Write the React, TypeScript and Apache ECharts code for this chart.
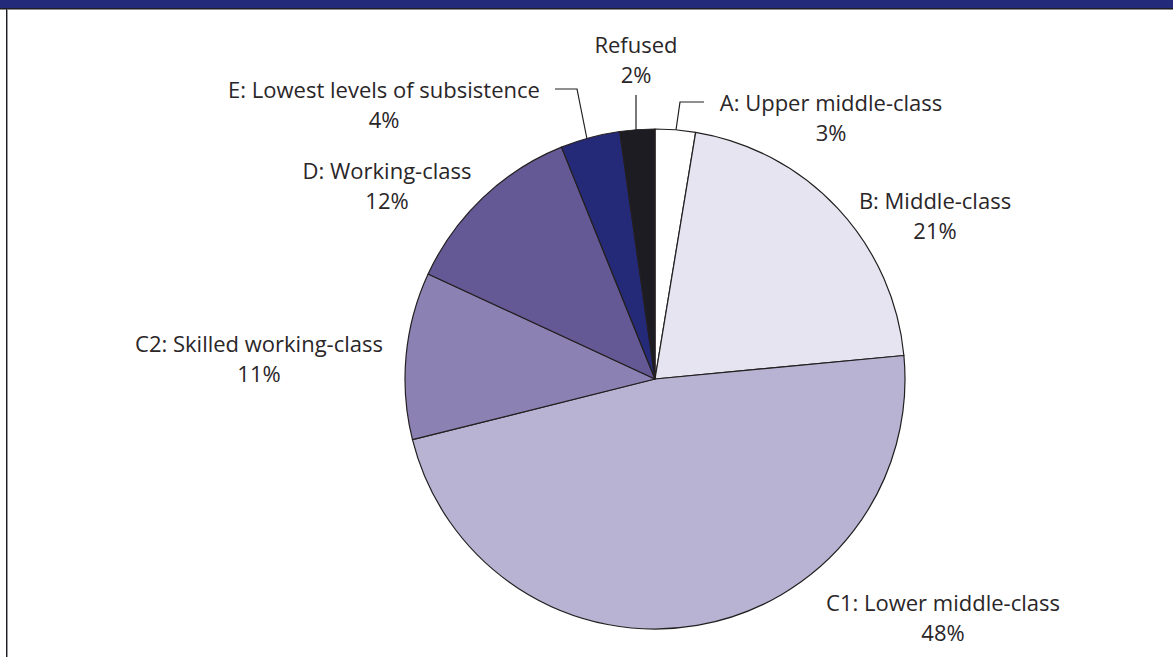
import React, { useEffect, useRef } from "react";
import * as echarts from "echarts";

const categories = [
  "A: Upper middle-class",
  "B: Middle-class",
  "C1: Lower middle-class",
  "C2: Skilled working-class",
  "D: Working-class",
  "E: Lowest levels of subsistence",
  "Refused",
];
// slice shares (percent)
const shares = [2.6, 20.9, 47.6, 10.8, 12.0, 3.85, 2.25];
// percentages printed on the labels
const labelPercents = [3, 21, 48, 11, 12, 4, 2];
const colors = ["#ffffff", "#e6e4f1", "#b8b3d3", "#8b82b3", "#645995", "#252a78", "#1d1c22"];

// label block centres and leader lines
const labelPos: Record<string, { x: number; y: number; line?: number[][] }> = {
  "A: Upper middle-class": { x: 831, y: 117, line: [[676, 130], [680, 102], [704, 102]] },
  "B: Middle-class": { x: 935, y: 215 },
  "C1: Lower middle-class": { x: 943, y: 617 },
  "C2: Skilled working-class": { x: 259, y: 358 },
  "D: Working-class": { x: 387, y: 185 },
  "E: Lowest levels of subsistence": { x: 384, y: 104, line: [[587, 139], [577, 89], [555, 89]] },
  Refused: { x: 636, y: 59, line: [[636, 130], [636, 112], [636, 95]] },
};

export default function App() {
  const ref = useRef<HTMLDivElement>(null);
  useEffect(() => {
    if (!ref.current) return;
    const chart = echarts.init(ref.current, null, { renderer: "svg" });
    const data = categories.map((name, i) => ({
      name,
      value: shares[i],
      itemStyle: { color: colors[i] },
      labelLine: { show: !!labelPos[name].line },
    }));
    chart.setOption({
      animation: false,
      backgroundColor: "#ffffff",
      graphic: [
        { type: "rect", shape: { x: 0, y: 0, width: 1173, height: 8 }, style: { fill: "#232a7a" } },
        { type: "rect", shape: { x: 0, y: 8, width: 1173, height: 1 }, style: { fill: "#1e1e24" } },
        { type: "rect", shape: { x: 0, y: 9, width: 1173, height: 1 }, style: { fill: "#8a8a8a" } },
        { type: "rect", shape: { x: 6, y: 9, width: 1, height: 648 }, style: { fill: "#1e1e24" } },
        { type: "rect", shape: { x: 7, y: 10, width: 1, height: 647 }, style: { fill: "#9a9a9a" } },
      ],
      series: [
        {
          type: "pie",
          center: [655, 379],
          radius: [0, 250],
          startAngle: 90,
          clockwise: true,
          avoidLabelOverlap: false,
          data,
          itemStyle: { borderColor: "#231f20", borderWidth: 1.2 },
          label: {
            show: true,
            position: "outside",
            color: "#2a2628",
            fontFamily: "Open Sans",
            fontSize: 22,
            lineHeight: 30,
            align: "center",
            formatter: (p: any) => `${p.name}\n${labelPercents[p.dataIndex]}%`,
          },
          labelLine: {
            show: true,
            lineStyle: { color: "#231f20", width: 1.2 },
          },
          emphasis: { disabled: true },
          labelLayout: (params: any) => {
            const pos = labelPos[categories[params.dataIndex]];
            const out: any = { x: pos.x, y: pos.y, align: "center", verticalAlign: "middle" };
            if (pos.line) out.labelLinePoints = pos.line;
            return out;
          },
        },
      ],
    });
    return () => chart.dispose();
  }, []);
  return (
    <div
      ref={ref}
      style={{ position: "absolute", left: 0, top: 0, width: 1173, height: 657 }}
    />
  );
}
